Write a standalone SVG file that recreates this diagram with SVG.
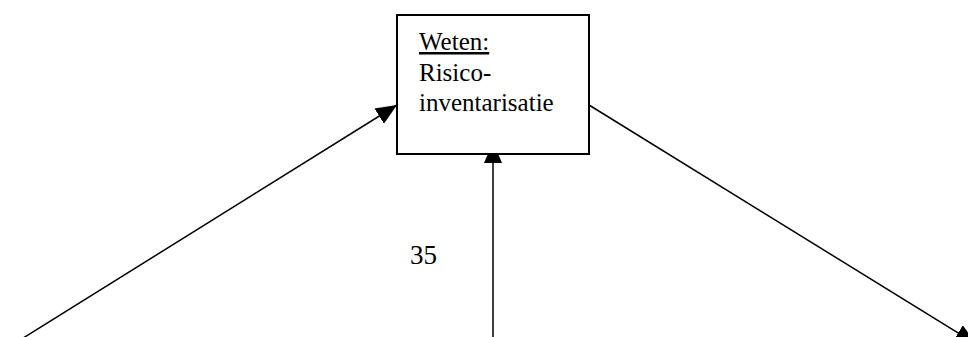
<svg xmlns="http://www.w3.org/2000/svg" width="968" height="337" viewBox="0 0 968 337">
<style>
.t{font-family:"Liberation Serif","Times New Roman",serif;fill:#000}
.c{stroke:#000;stroke-width:1.5;fill:none}
</style>
<defs>
<marker id="ah" viewBox="0 0 21 18" refX="21" refY="9" markerWidth="21" markerHeight="18" markerUnits="userSpaceOnUse" orient="auto">
<path d="M0,0 L21,9 L0,18 z" fill="#000"/>
</marker>
</defs>
<rect width="968" height="337" fill="#fff"/>
<g id="connectors">
<line class="c" x1="20" y1="340" x2="397" y2="105" marker-end="url(#ah)"/>
<line class="c" x1="493" y1="337" x2="493" y2="142" marker-end="url(#ah)"/>
<line class="c" x1="589" y1="105" x2="976" y2="344" marker-end="url(#ah)"/>
</g>
<g id="node-weten">
<rect x="397" y="15" width="192" height="139" fill="#fff" stroke="#000" stroke-width="2"/>
<text class="t" x="419" y="50" font-size="25" text-decoration="underline">Weten:</text>
<text class="t" x="419" y="80.5" font-size="25">Risico-</text>
<text class="t" x="419" y="111" font-size="25">inventarisatie</text>
</g>
<g id="label-35">
<text class="t" x="410" y="264" font-size="27">35</text>
</g>
</svg>
